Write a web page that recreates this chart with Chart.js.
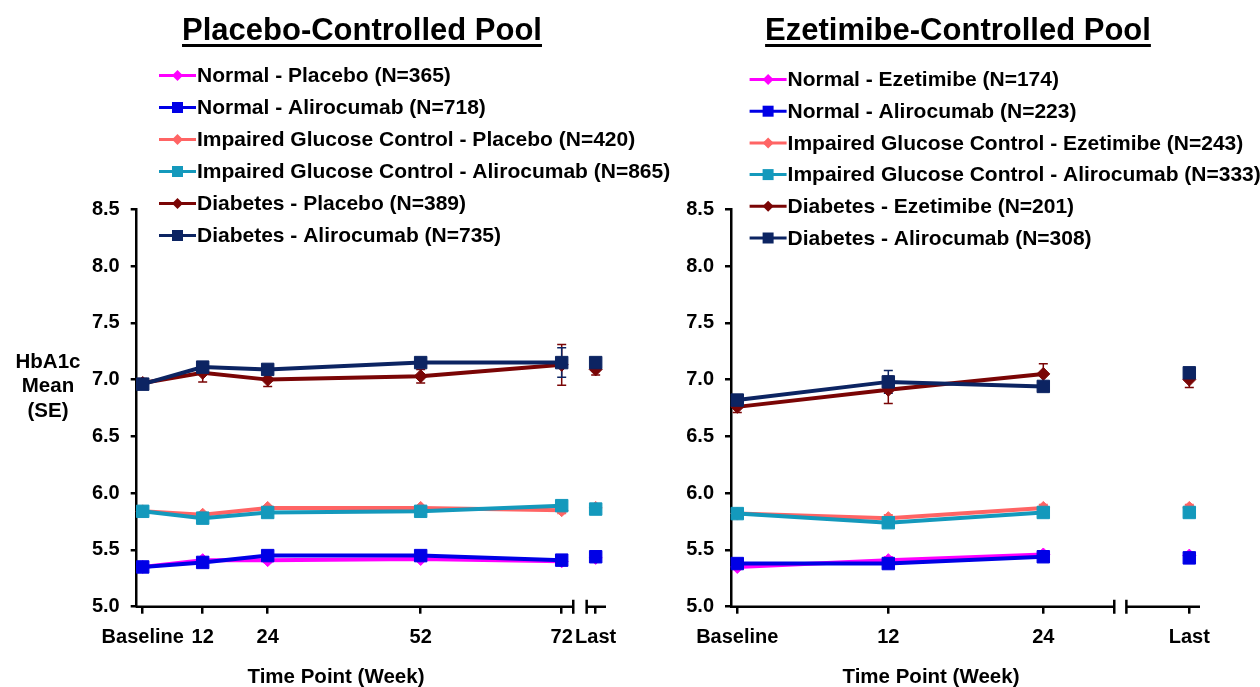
<!DOCTYPE html>
<html>
<head>
<meta charset="utf-8">
<script src="https://cdn.jsdelivr.net/npm/chart.js@4.4.1/dist/chart.umd.min.js"></script>
<style>
  html, body { margin: 0; padding: 0; background: #fff; }
  body { width: 1260px; height: 687px; position: relative; overflow: hidden;
         font-family: "Liberation Sans", Arial, sans-serif; font-weight: bold; color: #000; }
  .pane { position: absolute; top: 0; height: 687px; }
  .title { position: absolute; font-size: 31px; line-height: 31px; text-align: center; white-space: nowrap;
           text-decoration: underline; text-decoration-thickness: 3px; text-underline-offset: 4px; }
  .axt { position: absolute; font-size: 20.5px; line-height: 24.3px; text-align: center; white-space: nowrap; }
</style>
</head>
<body>
<div class="pane" style="left:0;width:690px"><canvas id="pboChart" width="690" height="687"></canvas></div>
<div class="pane" style="left:630px;width:630px"><canvas id="ezeChart" width="630" height="687"></canvas></div>

<div class="title" style="left:62px;width:600px;top:14px">Placebo-Controlled Pool</div>
<div class="title" style="left:658px;width:600px;top:14px">Ezetimibe-Controlled Pool</div>
<div class="axt" style="left:0;width:96px;top:349px">HbA1c<br>Mean<br>(SE)</div>
<div class="axt" style="left:186px;width:300px;top:664px">Time Point (Week)</div>
<div class="axt" style="left:781px;width:300px;top:664px">Time Point (Week)</div>

<script>
// ---- HbA1c axis ----
const hba1cTicks = [5.0, 5.5, 6.0, 6.5, 7.0, 7.5, 8.0, 8.5];

// ---- Placebo-controlled pool ----
const pboVisits = ['Baseline', '12', '24', '52', '72', 'Last'];
const pboLabels = [
  'Normal - Placebo (N=365)',
  'Normal - Alirocumab (N=718)',
  'Impaired Glucose Control - Placebo (N=420)',
  'Impaired Glucose Control - Alirocumab (N=865)',
  'Diabetes - Placebo (N=389)',
  'Diabetes - Alirocumab (N=735)'
];
const pboNormalPbo   = [5.35, 5.41, 5.41, 5.42, 5.40, 5.43];
const pboNormalAli   = [5.35, 5.39, 5.45, 5.45, 5.41, 5.44];
const pboIgcPbo      = [5.84, 5.81, 5.87, 5.87, 5.85, 5.87];
const pboIgcAli      = [5.84, 5.78, 5.83, 5.84, 5.89, 5.86];
const pboDiabPbo     = [6.97, 7.06, 7.00, 7.03, 7.13, 7.09];
const pboDiabAli     = [6.96, 7.11, 7.09, 7.15, 7.15, 7.15];
const pboNormalPboSE = [0.02, 0.02, 0.02, 0.02, 0.03, 0.02];
const pboNormalAliSE = [0.01, 0.01, 0.01, 0.01, 0.02, 0.01];
const pboIgcPboSE    = [0.02, 0.02, 0.02, 0.02, 0.03, 0.02];
const pboIgcAliSE    = [0.01, 0.01, 0.01, 0.02, 0.03, 0.01];
const pboDiabPboSE   = [0.04, 0.08, 0.06, 0.06, 0.18, 0.05];
const pboDiabAliSE   = [0.03, 0.04, 0.04, 0.04, 0.13, 0.04];

// ---- Ezetimibe-controlled pool ----
const ezeVisits = ['Baseline', '12', '24', 'Last'];
const ezeLabels = [
  'Normal - Ezetimibe (N=174)',
  'Normal - Alirocumab (N=223)',
  'Impaired Glucose Control - Ezetimibe (N=243)',
  'Impaired Glucose Control - Alirocumab (N=333)',
  'Diabetes - Ezetimibe (N=201)',
  'Diabetes - Alirocumab (N=308)'
];
const ezeNormalEze   = [5.35, 5.41, 5.46, 5.45];
const ezeNormalAli   = [5.38, 5.38, 5.44, 5.43];
const ezeIgcEze      = [5.82, 5.78, 5.87, 5.87];
const ezeIgcAli      = [5.82, 5.74, 5.83, 5.83];
const ezeDiabEze     = [6.76, 6.91, 7.05, 7.00];
const ezeDiabAli     = [6.82, 6.98, 6.94, 7.06];
const ezeNormalEzeSE = [0.02, 0.03, 0.03, 0.03];
const ezeNormalAliSE = [0.02, 0.02, 0.02, 0.02];
const ezeIgcEzeSE    = [0.02, 0.03, 0.03, 0.03];
const ezeIgcAliSE    = [0.02, 0.02, 0.02, 0.02];
const ezeDiabEzeSE   = [0.05, 0.12, 0.09, 0.07];
const ezeDiabAliSE   = [0.04, 0.10, 0.04, 0.04];

// ---- styling ----
const FONT = '"Liberation Sans", Arial, sans-serif';
const colNormalCtl = '#FF00FF';
const colNormalAli = '#0000E6';
const colIgcCtl    = '#FF6464';
const colIgcAli    = '#1499BC';
const colDiabCtl   = '#7A0505';
const colDiabAli   = '#0C2462';

Chart.defaults.font.family = FONT;
Chart.defaults.color = '#000';

// Visit axis: each visit index sits at its own fraction of the axis width,
// so the uneven visit spacing and the detached "Last" slot can be drawn.
class VisitScale extends Chart.LinearScale {
  getPixelForValue(value) {
    const s = this.options.slots;
    const i = Math.max(0, Math.min(s.length - 2, Math.floor(value)));
    const f = s[i] + (value - i) * (s[i + 1] - s[i]);
    return this.left + f * this.width;
  }
}
VisitScale.id = 'visit';
VisitScale.defaults = {};
Chart.register(VisitScale);

// Line segments between visits; the final "Last" value stands on its own.
function visitPoints(values, errs) {
  const pts = [];
  values.forEach((v, i) => {
    if (i === values.length - 1) pts.push({ x: i - 0.5, y: null });
    pts.push({ x: i, y: v, se: errs[i] });
  });
  return pts;
}

function series(label, values, errs, color, isActive) {
  return {
    label,
    data: visitPoints(values, errs),
    borderColor: color,
    backgroundColor: color,
    borderWidth: 4,
    pointStyle: isActive ? 'rect' : 'rectRot',
    pointRadius: isActive ? 8.8 : 6.5,
    pointBorderWidth: 1,
    pointBackgroundColor: color,
    pointBorderColor: color,
    spanGaps: false,
    tension: 0,
    clip: false,
    order: isActive ? 0 : 1
  };
}

// SE whiskers behind the markers
const seBars = {
  id: 'seBars',
  beforeDatasetsDraw(chart) {
    const { ctx, scales: { y } } = chart;
    ctx.save();
    ctx.lineWidth = 1.5;
    chart.data.datasets.forEach((ds, di) => {
      const meta = chart.getDatasetMeta(di);
      ds.data.forEach((p, i) => {
        if (p.y == null || !p.se) return;
        const x = meta.data[i].x;
        const top = y.getPixelForValue(p.y + p.se);
        const bot = y.getPixelForValue(p.y - p.se);
        ctx.strokeStyle = ds.borderColor;
        ctx.beginPath();
        ctx.moveTo(x, top); ctx.lineTo(x, bot);
        ctx.moveTo(x - 4.5, top); ctx.lineTo(x + 4.5, top);
        ctx.moveTo(x - 4.5, bot); ctx.lineTo(x + 4.5, bot);
        ctx.stroke();
      });
    });
    ctx.restore();
  }
};

// X axis line with a break before the "Last" slot
const brokenAxis = {
  id: 'brokenAxis',
  afterDraw(chart, args, opts) {
    const { ctx, chartArea: a, scales: { x } } = chart;
    const b1 = x.getPixelForValue(opts.gap[0]);
    const b2 = x.getPixelForValue(opts.gap[1]);
    const yb = a.bottom;
    ctx.save();
    ctx.strokeStyle = '#000';
    ctx.lineWidth = 2.5;
    ctx.beginPath();
    ctx.moveTo(a.left - 1, yb); ctx.lineTo(b1, yb);
    ctx.moveTo(b2, yb); ctx.lineTo(a.right, yb);
    ctx.moveTo(b1, yb - 7); ctx.lineTo(b1, yb + 7);
    ctx.moveTo(b2, yb - 7); ctx.lineTo(b2, yb + 7);
    ctx.stroke();
    ctx.restore();
  }
};

// Series key: line with marker, then the label
const seriesKey = {
  id: 'seriesKey',
  afterDraw(chart, args, o) {
    const ctx = chart.ctx;
    ctx.save();
    ctx.font = 'bold 21px ' + FONT;
    ctx.textBaseline = 'middle';
    chart.data.datasets.forEach((ds, i) => {
      const y = o.top + i * o.step;
      const x0 = o.left, x1 = o.left + 37, xm = (x0 + x1) / 2;
      ctx.strokeStyle = ds.borderColor;
      ctx.fillStyle = ds.borderColor;
      ctx.lineWidth = 3;
      ctx.beginPath(); ctx.moveTo(x0, y); ctx.lineTo(x1, y); ctx.stroke();
      ctx.beginPath();
      if (ds.pointStyle === 'rect') {
        ctx.rect(xm - 5.5, y - 5.5, 11, 11);
      } else {
        ctx.moveTo(xm, y - 5.5); ctx.lineTo(xm + 5.5, y); ctx.lineTo(xm, y + 5.5); ctx.lineTo(xm - 5.5, y);
        ctx.closePath();
      }
      ctx.fill();
      ctx.fillStyle = '#000';
      ctx.fillText(ds.label, x1 + 1, y + 1);
    });
    ctx.restore();
  }
};

function yAxis(width) {
  return {
    min: 5, max: 8.5,
    afterBuildTicks: s => { s.ticks = hba1cTicks.map(v => ({ value: v })); },
    afterFit: s => { s.width = width; },
    grid: { display: true, drawOnChartArea: false, drawTicks: true, tickLength: 6, lineWidth: 2.5, color: '#000' },
    border: { display: true, width: 2.5, color: '#000' },
    ticks: { padding: 11, color: '#000', font: { size: 20, weight: 'bold' },
             callback: v => v.toFixed(1) }
  };
}

function xAxis(visits, slots) {
  return {
    type: 'visit', slots,
    min: 0, max: visits.length - 1,
    afterBuildTicks: s => { s.ticks = visits.map((_, i) => ({ value: i })); },
    afterFit: s => { s.height = 80.3; },
    grid: { display: true, drawOnChartArea: false, drawTicks: true, tickLength: 7, lineWidth: 2.5, color: '#000' },
    border: { display: false },
    ticks: { autoSkip: false, maxRotation: 0, minRotation: 0, padding: 12, color: '#000',
             font: { size: 20, weight: 'bold' }, callback: (v, i) => visits[i] }
  };
}

function makeChart(id, visits, labels, cols, groups, cfg) {
  const datasets = groups.map((g, k) => series(labels[k], g[0], g[1], cols[k], k % 2 === 1));
  return new Chart(document.getElementById(id), {
    type: 'line',
    data: { datasets },
    plugins: [seBars, brokenAxis, seriesKey],
    options: {
      responsive: false,
      animation: false,
      devicePixelRatio: 1,
      events: [],
      layout: { padding: { top: 209.3, bottom: 0, left: 0, right: cfg.padRight } },
      plugins: {
        legend: { display: false },
        tooltip: { enabled: false },
        brokenAxis: { gap: cfg.gap },
        seriesKey: cfg.key
      },
      scales: { x: xAxis(visits, cfg.slots), y: yAxis(cfg.yWidth) }
    }
  });
}

const palette = [colNormalCtl, colNormalAli, colIgcCtl, colIgcAli, colDiabCtl, colDiabAli];

makeChart('pboChart', pboVisits, pboLabels, palette, [
  [pboNormalPbo, pboNormalPboSE], [pboNormalAli, pboNormalAliSE],
  [pboIgcPbo, pboIgcPboSE], [pboIgcAli, pboIgcAliSE],
  [pboDiabPbo, pboDiabPboSE], [pboDiabAli, pboDiabAliSE]
], {
  yWidth: 136.7, padRight: 84,
  slots: [0.0128, 0.1406, 0.2791, 0.6051, 0.9056, 0.9780],
  gap: [4.34, 4.735],
  key: { left: 159, top: 75.5, step: 32 }
});

makeChart('ezeChart', ezeVisits, ezeLabels, palette, [
  [ezeNormalEze, ezeNormalEzeSE], [ezeNormalAli, ezeNormalAliSE],
  [ezeIgcEze, ezeIgcEzeSE], [ezeIgcAli, ezeIgcAliSE],
  [ezeDiabEze, ezeDiabEzeSE], [ezeDiabAli, ezeDiabAliSE]
], {
  yWidth: 101, padRight: 60,
  slots: [0.0134, 0.3354, 0.6659, 0.9772],
  gap: [2.486, 2.569],
  key: { left: 119.6, top: 79.5, step: 31.7 }
});
</script>
</body>
</html>
